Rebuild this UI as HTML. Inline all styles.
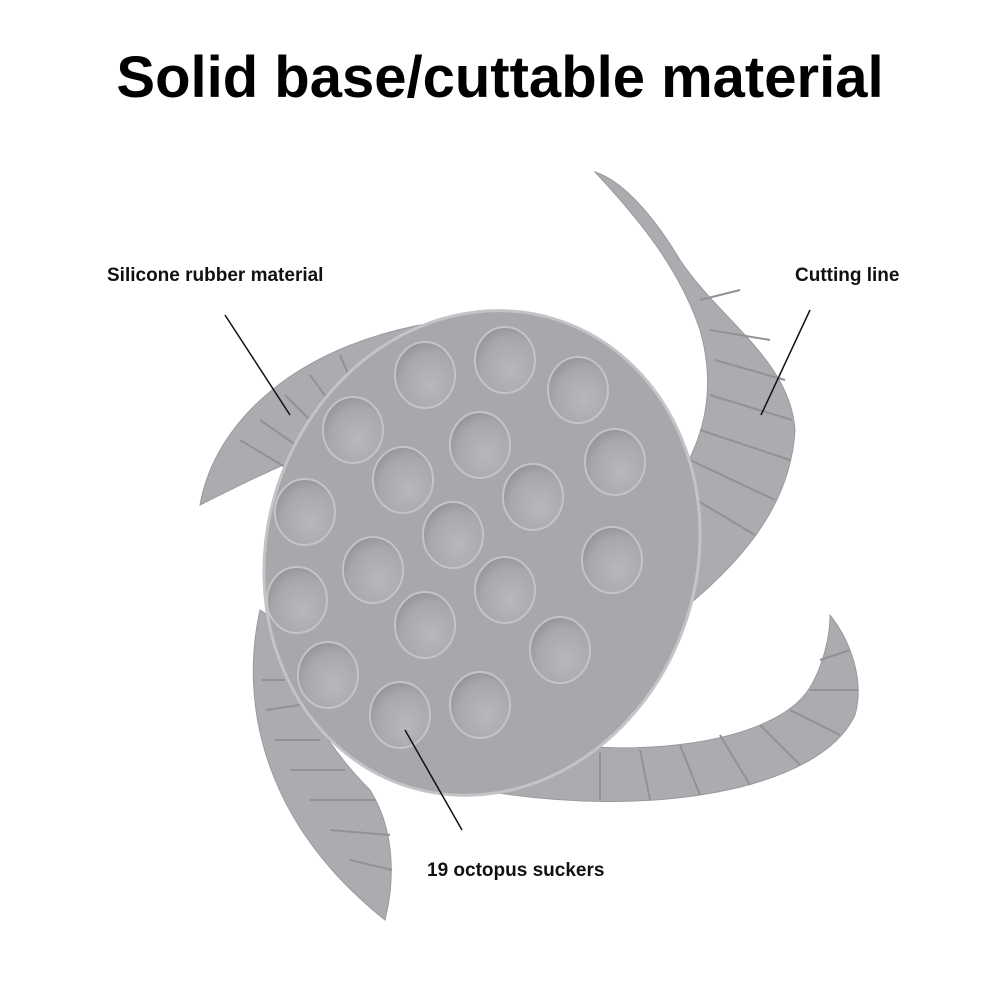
<!DOCTYPE html>
<html><head><meta charset="utf-8"><style>
html,body{margin:0;padding:0;background:#fff;}
.t{position:absolute;left:0;width:1000px;text-align:center;top:44px;font:bold 58px "Liberation Sans",sans-serif;color:#000;letter-spacing:0px}
.l{position:absolute;font:bold 19px "Liberation Sans",sans-serif;color:#111}
</style></head><body>
<div style="position:relative;width:1000px;height:1000px;overflow:hidden">
<div class="t">Solid base/cuttable material</div>
<svg width="1000" height="1000" style="position:absolute;left:0;top:0">
<defs>
<radialGradient id="s" cx="0.6" cy="0.65" r="0.7">
<stop offset="0" stop-color="#b8b8bc"/><stop offset="0.7" stop-color="#a8a8ac"/><stop offset="1" stop-color="#929296"/>
</radialGradient>
</defs>
<g fill="#acacb0" stroke="#9a9a9e" stroke-width="1">
<path d="M200,505 C215,420 300,340 450,320 L430,420 C350,430 270,470 200,505 Z"/>
<path d="M595,172 C620,180 650,210 680,260 C720,320 790,360 795,430 C790,520 720,580 670,620 L640,520 C700,470 720,400 700,330 C680,270 640,220 595,172 Z"/>
<path d="M830,615 C850,640 865,680 855,715 C820,790 650,820 480,790 L530,740 C650,760 760,740 800,700 C820,680 830,640 830,615 Z"/>
<path d="M260,610 C240,700 260,820 385,920 C395,880 395,830 370,790 C320,740 290,680 275,620 Z"/>
</g>
<g stroke="#929296" stroke-width="2">
<line x1="240" y1="440" x2="290" y2="470"/><line x1="260" y1="420" x2="310" y2="455"/><line x1="285" y1="395" x2="330" y2="440"/><line x1="310" y1="375" x2="350" y2="430"/><line x1="340" y1="355" x2="370" y2="425"/>
<line x1="700" y1="300" x2="740" y2="290"/><line x1="710" y1="330" x2="770" y2="340"/><line x1="715" y1="360" x2="785" y2="380"/><line x1="710" y1="395" x2="792" y2="420"/><line x1="700" y1="430" x2="790" y2="460"/><line x1="690" y1="460" x2="775" y2="500"/><line x1="680" y1="490" x2="755" y2="535"/>
<line x1="820" y1="660" x2="850" y2="650"/><line x1="810" y1="690" x2="858" y2="690"/><line x1="790" y1="710" x2="840" y2="735"/><line x1="760" y1="725" x2="800" y2="765"/><line x1="720" y1="735" x2="750" y2="785"/><line x1="680" y1="745" x2="700" y2="795"/><line x1="640" y1="750" x2="650" y2="800"/><line x1="600" y1="752" x2="600" y2="800"/>
<line x1="262" y1="680" x2="285" y2="680"/><line x1="266" y1="710" x2="300" y2="705"/><line x1="275" y1="740" x2="320" y2="740"/><line x1="290" y1="770" x2="345" y2="770"/><line x1="310" y1="800" x2="375" y2="800"/><line x1="330" y1="830" x2="390" y2="835"/><line x1="350" y1="860" x2="392" y2="870"/>
</g>
<ellipse cx="482" cy="553" rx="215" ry="245" transform="rotate(18 482 553)" fill="#a8a8ac" stroke="#c4c4c8" stroke-width="3"/>
<g fill="url(#s)" stroke="#c4c4c8" stroke-width="2">
<ellipse cx="425" cy="375" rx="30" ry="33"/><ellipse cx="505" cy="360" rx="30" ry="33"/><ellipse cx="578" cy="390" rx="30" ry="33"/>
<ellipse cx="353" cy="430" rx="30" ry="33"/><ellipse cx="403" cy="480" rx="30" ry="33"/><ellipse cx="480" cy="445" rx="30" ry="33"/>
<ellipse cx="615" cy="462" rx="30" ry="33"/><ellipse cx="305" cy="512" rx="30" ry="33"/><ellipse cx="533" cy="497" rx="30" ry="33"/>
<ellipse cx="453" cy="535" rx="30" ry="33"/><ellipse cx="612" cy="560" rx="30" ry="33"/><ellipse cx="297" cy="600" rx="30" ry="33"/>
<ellipse cx="373" cy="570" rx="30" ry="33"/><ellipse cx="505" cy="590" rx="30" ry="33"/><ellipse cx="425" cy="625" rx="30" ry="33"/>
<ellipse cx="560" cy="650" rx="30" ry="33"/><ellipse cx="328" cy="675" rx="30" ry="33"/><ellipse cx="400" cy="715" rx="30" ry="33"/>
<ellipse cx="480" cy="705" rx="30" ry="33"/>
</g>
<g stroke="#111" stroke-width="1.5">
<line x1="225" y1="315" x2="290" y2="415"/><line x1="810" y1="310" x2="761" y2="415"/><line x1="405" y1="730" x2="462" y2="830"/>
</g>
</svg>
<div class="l" style="left:107px;top:265px">Silicone rubber material</div>
<div class="l" style="left:795px;top:265px">Cutting line</div>
<div class="l" style="left:427px;top:860px">19 octopus suckers</div>
</div>
</body></html>
